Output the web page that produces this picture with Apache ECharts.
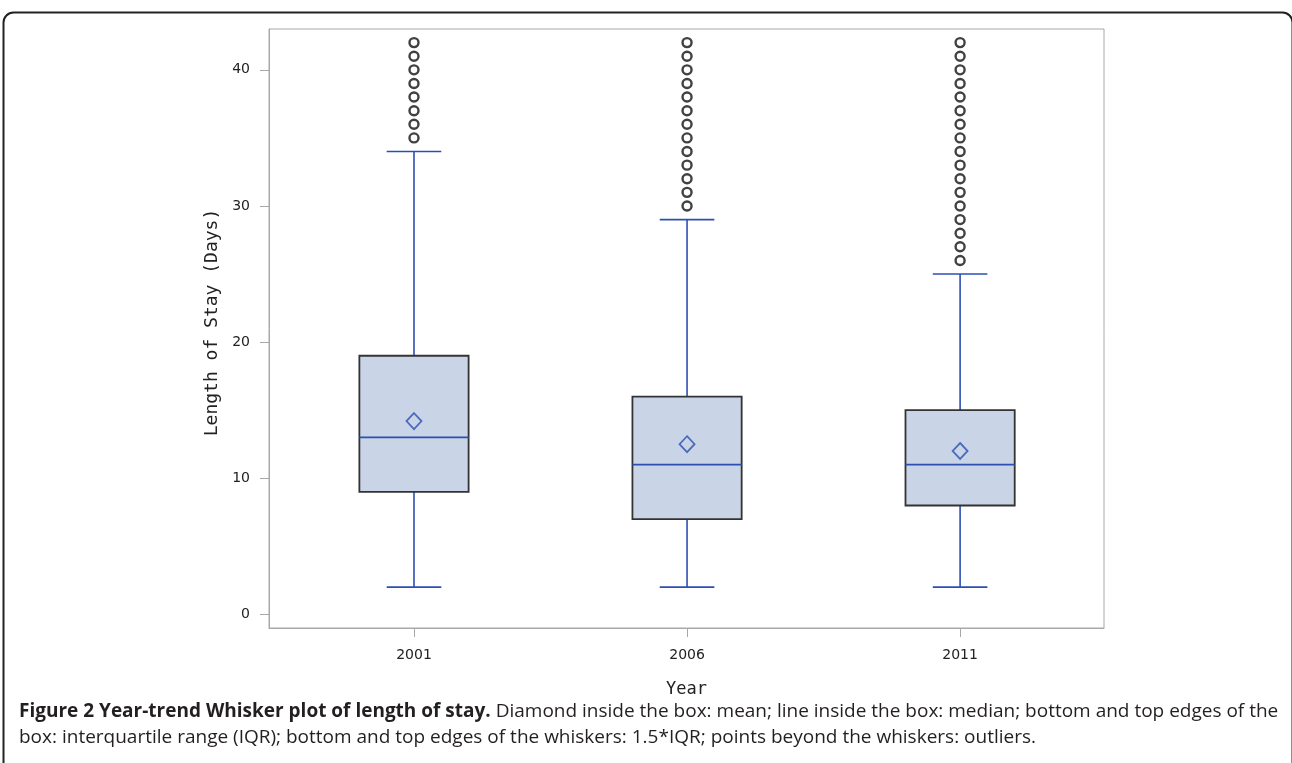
<!DOCTYPE html>
<html>
<head>
<meta charset="utf-8">
<script src="https://cdn.jsdelivr.net/npm/echarts@6/dist/echarts.min.js"></script>
<style>
html,body{margin:0;padding:0;background:#fff;}
#chart{width:1292px;height:763px;}
</style>
</head>
<body>
<div id="chart"></div>
<script>
// ---- data ----
const years = ['2001', '2006', '2011'];
const whiskerLow = [2, 2, 2];
const q1 = [9, 7, 8];
const median = [13, 11, 11];
const q3 = [19, 16, 15];
const whiskerHigh = [34, 29, 25];
const means = [14.2, 12.5, 12.0];
const outliers2001 = [35, 36, 37, 38, 39, 40, 41, 42];
const outliers2006 = [30, 31, 32, 33, 34, 35, 36, 37, 38, 39, 40, 41, 42];
const outliers2011 = [26, 27, 28, 29, 30, 31, 32, 33, 34, 35, 36, 37, 38, 39, 40, 41, 42];
const yTicks = [0, 10, 20, 30, 40];

// ---- build ----
const boxData = years.map((y, i) => [i, whiskerLow[i], q1[i], median[i], q3[i], whiskerHigh[i]]);
const meanData = means.map((m, i) => [i, m]);
const outlierData = [];
[outliers2001, outliers2006, outliers2011].forEach((arr, i) => arr.forEach(v => outlierData.push([i, v])));

const BLUE = '#2c4fb3';
const monoFont = '"DejaVu Sans Mono", monospace';
const sansFont = '"DejaVu Sans", sans-serif';

const chart = echarts.init(document.getElementById('chart'), null, {renderer: 'canvas'});

function renderBox(params, api) {
  const x = api.value(0);
  const lo = api.coord([x, api.value(1)]);
  const b1 = api.coord([x, api.value(2)]);
  const md = api.coord([x, api.value(3)]);
  const b3 = api.coord([x, api.value(4)]);
  const hi = api.coord([x, api.value(5)]);
  const bw = api.size([0.4, 0])[0];
  const cw = api.size([0.2, 0])[0];
  const cx = lo[0];
  const lineStyle = {stroke: BLUE, lineWidth: 1.6, fill: null};
  return {
    type: 'group',
    children: [
      {type: 'line', shape: {x1: cx, y1: lo[1], x2: cx, y2: b1[1]}, style: lineStyle},
      {type: 'line', shape: {x1: cx, y1: b3[1], x2: cx, y2: hi[1]}, style: lineStyle},
      {type: 'line', shape: {x1: cx - cw / 2, y1: lo[1], x2: cx + cw / 2, y2: lo[1]}, style: lineStyle},
      {type: 'line', shape: {x1: cx - cw / 2, y1: hi[1], x2: cx + cw / 2, y2: hi[1]}, style: lineStyle},
      {type: 'rect', shape: {x: cx - bw / 2, y: b3[1], width: bw, height: b1[1] - b3[1]},
        style: {fill: '#c9d5e6', stroke: '#333333', lineWidth: 1.8}},
      {type: 'line', shape: {x1: cx - bw / 2, y1: md[1], x2: cx + bw / 2, y2: md[1]}, style: lineStyle}
    ]
  };
}

const capFont = '"Open Sans", sans-serif';
const option = {
  animation: false,
  backgroundColor: '#ffffff',
  title: {
    left: 14,
    top: 694,
    text: '{b|Figure 2 Year-trend Whisker plot of length of stay.} {n|Diamond inside the box: mean; line inside the box: median; bottom and top edges of the}\n{n|box: interquartile range (IQR); bottom and top edges of the whiskers: 1.5*IQR; points beyond the whiskers: outliers.}',
    textStyle: {
      fontFamily: capFont,
      fontSize: 19,
      fontWeight: 'normal',
      lineHeight: 26,
      color: '#231f20',
      rich: {
        b: {fontFamily: capFont, fontSize: 19, fontWeight: 'bold', color: '#231f20', lineHeight: 26},
        n: {fontFamily: capFont, fontSize: 19, fontWeight: 'normal', color: '#231f20', lineHeight: 26}
      }
    }
  },
  graphic: [
    {type: 'rect', left: 1, top: 10, shape: {width: 1289, height: 800, r: 10},
      style: {fill: null, stroke: '#222', lineWidth: 2}, silent: true, z: -1}
  ],
  grid: {
    left: 269, right: 188, top: 29, bottom: 135,
    show: true, borderColor: '#a8a8a8', borderWidth: 1, backgroundColor: 'transparent'
  },
  xAxis: {
    type: 'value', min: -0.531, max: 2.527,
    splitLine: {show: false},
    axisLine: {show: true, onZero: false, lineStyle: {color: '#a8a8a8'}},
    axisTick: {show: true, length: 9, customValues: [0, 1, 2], lineStyle: {color: '#a8a8a8'}},
    axisLabel: {customValues: [0, 1, 2], formatter: v => years[Math.round(v)], margin: 20,
      fontFamily: sansFont, fontSize: 14, color: '#222'},
    name: 'Year', nameLocation: 'middle', nameGap: 53,
    nameTextStyle: {fontFamily: monoFont, fontSize: 17, color: '#222'}
  },
  yAxis: {
    type: 'value', min: -1, max: 43,
    splitLine: {show: false},
    axisLine: {show: true, onZero: false, lineStyle: {color: '#a8a8a8'}},
    axisTick: {show: true, length: 9, customValues: yTicks, lineStyle: {color: '#a8a8a8'}},
    axisLabel: {customValues: yTicks, margin: 19, fontFamily: sansFont, fontSize: 14, color: '#222'},
    name: 'Length of Stay (Days)', nameLocation: 'middle', nameGap: 48, nameRotate: 90,
    nameTextStyle: {fontFamily: monoFont, fontSize: 18, color: '#222', padding: [0, 0, 0, 12]}
  },
  series: [
    {type: 'custom', renderItem: renderBox, data: boxData, encode: {x: 0, y: [1, 2, 3, 4, 5]}, z: 2},
    {type: 'scatter', data: meanData, symbol: 'diamond', symbolSize: [15, 16],
      itemStyle: {color: 'transparent', borderColor: BLUE, borderWidth: 1.8}, z: 3},
    {type: 'scatter', data: outlierData, symbol: 'circle', symbolSize: 9,
      itemStyle: {color: '#ffffff', borderColor: '#111', borderWidth: 2.4}, z: 3}
  ]
};
chart.setOption(option);
</script>
</body>
</html>
